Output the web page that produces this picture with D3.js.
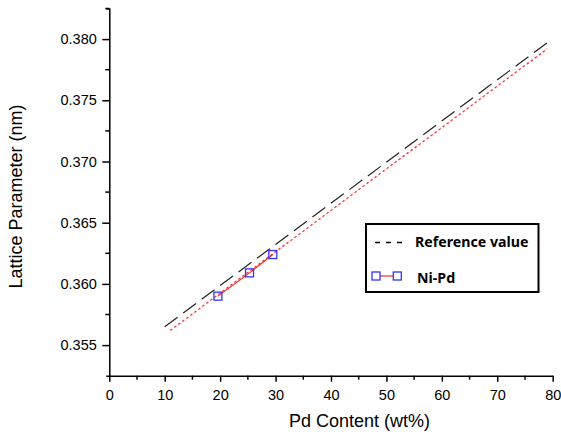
<!DOCTYPE html>
<html>
<head>
<meta charset="utf-8">
<script src="https://cdn.jsdelivr.net/npm/d3@7"></script>
<style>
  body { margin: 0; background: #fff; }
  svg { display: block; }
</style>
</head>
<body>
<div id="chart"></div>
<script>
// values
const refX = [10, 79];
const refY = [0.3565, 0.3797];
const fitX = [11, 79];
const fitY = [0.3562, 0.3792];
const niPdX = [19.6, 25.3, 29.5];
const niPdY = [0.3590, 0.3609, 0.3624];
const xTicks = [0, 10, 20, 30, 40, 50, 60, 70, 80];
const yTicks = [0.355, 0.360, 0.365, 0.370, 0.375, 0.380];
const legendLabels = ["Reference value", "Ni-Pd"];

const width = 561;
const height = 437;
const plotLeft = 109.3, plotRight = 552.7, plotTop = 8.5, plotBottom = 375.7;

const svg = d3.select("#chart")
  .append("svg")
  .attr("width", width)
  .attr("height", height);

const xScale = d3.scaleLinear().domain([0, 80]).range([plotLeft, plotRight]);
const yScale = d3.scaleLinear().domain([0.3525, 0.3825]).range([plotBottom, plotTop]);

// minor ticks
const xMinor = d3.range(5, 80, 10);
const yMinor = d3.range(0.3575, 0.3825, 0.005);

const xAxis = d3.axisBottom(xScale).tickValues(xTicks).tickFormat(d3.format("d"))
  .tickSize(6).tickSizeOuter(0).tickPadding(8);
const gx = svg.append("g")
  .attr("transform", `translate(0, ${plotBottom})`)
  .call(xAxis);
gx.append("g").selectAll("line")
  .data(xMinor)
  .enter()
  .append("line")
  .attr("x1", d => xScale(d)).attr("x2", d => xScale(d))
  .attr("y1", 0).attr("y2", 4);

const yAxis = d3.axisLeft(yScale).tickValues(yTicks).tickFormat(d3.format(".3f"))
  .tickSize(7).tickSizeOuter(3).tickPadding(5.5);
const gy = svg.append("g")
  .attr("transform", `translate(${plotLeft}, 0)`)
  .call(yAxis);
gy.append("g").selectAll("line")
  .data(yMinor)
  .enter()
  .append("line")
  .attr("y1", d => yScale(d)).attr("y2", d => yScale(d))
  .attr("x1", 0).attr("x2", -4);

[gx, gy].forEach(g => {
  g.selectAll("path, line").attr("stroke", "#000").attr("stroke-width", 1.5);
  g.selectAll("text")
    .attr("fill", "#000")
    .style("font-family", "'Liberation Sans', Arial, sans-serif")
    .style("font-size", "14.5px");
});

// axis titles
svg.append("text")
  .attr("x", 359.5)
  .attr("y", 427)
  .attr("text-anchor", "middle")
  .style("font-family", "'Liberation Sans', Arial, sans-serif")
  .style("font-size", "18px")
  .text("Pd Content (wt%)");

svg.append("text")
  .attr("transform", "translate(21.5, 196.5) rotate(-90)")
  .attr("text-anchor", "middle")
  .style("font-family", "'Liberation Sans', Arial, sans-serif")
  .style("font-size", "18px")
  .text("Lattice Parameter (nm)");

const line = d3.line()
  .x(d => xScale(d[0]))
  .y(d => yScale(d[1]));

// reference value (dashed black)
svg.append("path")
  .datum(refX.map((x, i) => [x, refY[i]]))
  .attr("d", line)
  .attr("fill", "none")
  .attr("stroke", "#222")
  .attr("stroke-width", 1.2)
  .attr("stroke-dasharray", "16,7");

// fit (dotted red)
svg.append("path")
  .datum(fitX.map((x, i) => [x, fitY[i]]))
  .attr("d", line)
  .attr("fill", "none")
  .attr("stroke", "#f33")
  .attr("stroke-width", 1.3)
  .attr("stroke-dasharray", "2.5,2.5");

// Ni-Pd data
const niPd = niPdX.map((x, i) => [x, niPdY[i]]);
svg.append("path")
  .datum(niPd)
  .attr("d", line)
  .attr("fill", "none")
  .attr("stroke", "#f22")
  .attr("stroke-width", 1.2);

svg.selectAll("rect.pt")
  .data(niPd)
  .enter()
  .append("rect")
  .attr("class", "pt")
  .attr("x", d => xScale(d[0]) - 4)
  .attr("y", d => yScale(d[1]) - 4)
  .attr("width", 8)
  .attr("height", 8)
  .attr("fill", "none")
  .attr("stroke", "#33f")
  .attr("stroke-width", 1.3);

// legend
const lg = svg.append("g");
lg.append("rect")
  .attr("x", 366).attr("y", 224)
  .attr("width", 172.5).attr("height", 68)
  .attr("fill", "#fff")
  .attr("stroke", "#000")
  .attr("stroke-width", 2);

lg.append("line")
  .attr("x1", 375).attr("x2", 403)
  .attr("y1", 242.5).attr("y2", 242.5)
  .attr("stroke", "#000").attr("stroke-width", 1.5)
  .attr("stroke-dasharray", "5,6");

lg.append("line")
  .attr("x1", 380).attr("x2", 393)
  .attr("y1", 276).attr("y2", 276)
  .attr("stroke", "#f22").attr("stroke-width", 1.2);
[376, 397.3].forEach(cx => {
  lg.append("rect")
    .attr("x", cx - 4).attr("y", 272)
    .attr("width", 8).attr("height", 8)
    .attr("fill", "none")
    .attr("stroke", "#33f").attr("stroke-width", 1.3);
});

lg.selectAll("text")
  .data(legendLabels)
  .enter()
  .append("text")
  .attr("x", (d, i) => i === 0 ? 415 : 417)
  .attr("y", (d, i) => i === 0 ? 247 : 282.5)
  .style("font-family", "'Noto Sans', sans-serif")
  .style("font-weight", "bold")
  .style("font-size", "14.2px")
  .text(d => d);
</script>
</body>
</html>
